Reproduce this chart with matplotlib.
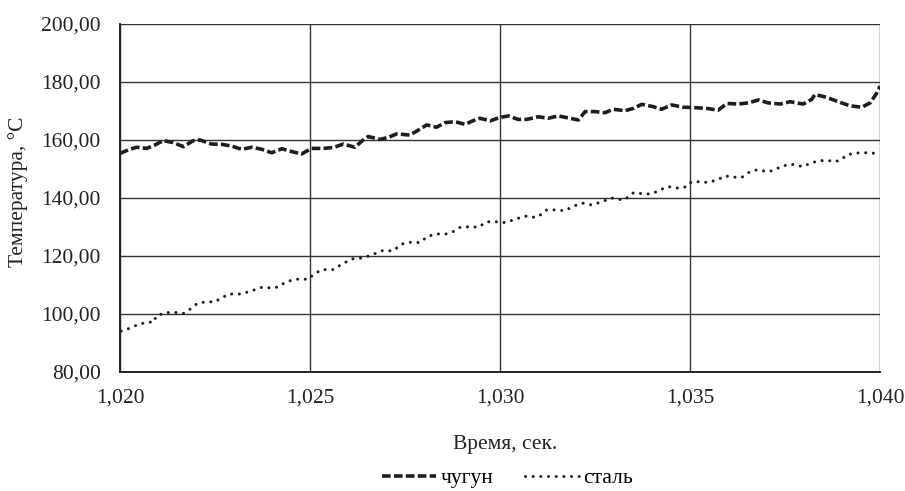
import matplotlib
matplotlib.use("Agg")
import matplotlib.pyplot as plt
from matplotlib.ticker import FuncFormatter, MultipleLocator
from matplotlib.lines import Line2D

plt.rcParams['font.family'] = ['Liberation Serif', 'DejaVu Serif']

# чугун (cast iron)
t_iron = [1.02000, 1.02026, 1.02044, 1.02070, 1.02092, 1.02114, 1.02140, 1.02167, 1.02193, 1.02211,
          1.02241, 1.02268, 1.02294, 1.02320, 1.02347, 1.02373, 1.02399, 1.02426, 1.02452, 1.02478,
          1.02504, 1.02535, 1.02561, 1.02588, 1.02618, 1.02640, 1.02653, 1.02684, 1.02706, 1.02728,
          1.02763, 1.02785, 1.02807, 1.02833, 1.02855, 1.02882, 1.02908, 1.02930, 1.02947, 1.02974,
          1.03000, 1.03022, 1.03048, 1.03070, 1.03101, 1.03127, 1.03153, 1.03184, 1.03206, 1.03224,
          1.03250, 1.03276, 1.03298, 1.03329, 1.03351, 1.03373, 1.03403, 1.03425, 1.03452, 1.03482,
          1.03508, 1.03544, 1.03574, 1.03597, 1.03627, 1.03653, 1.03680, 1.03706, 1.03737, 1.03763,
          1.03798, 1.03820, 1.03829, 1.03860, 1.03890, 1.03921, 1.03952, 1.03974, 1.03991, 1.04000]
v_iron = [155.4, 156.8, 157.5, 157.1, 158.3, 159.8, 159.1, 157.7, 159.8, 160.0,
          158.6, 158.5, 157.9, 156.8, 157.5, 156.8, 155.6, 157.0, 156.0, 155.2,
          157.1, 157.1, 157.4, 158.6, 157.5, 160.0, 161.2, 160.2, 160.9, 162.1,
          161.7, 163.4, 165.2, 164.4, 166.0, 166.3, 165.4, 166.7, 167.5, 166.6,
          167.8, 168.3, 167.1, 167.1, 168.0, 167.5, 168.3, 167.5, 166.9, 169.8,
          169.8, 169.4, 170.6, 170.1, 170.9, 172.3, 171.5, 170.6, 172.1, 171.3,
          171.2, 170.9, 170.3, 172.6, 172.4, 172.8, 173.8, 172.8, 172.4, 173.2,
          172.4, 174.0, 175.7, 174.7, 173.2, 171.8, 171.3, 172.8, 176.1, 178.6]

# сталь (steel)
t_steel = [1.02003, 1.02026, 1.02048, 1.02074, 1.02090, 1.02094, 1.02118, 1.02149, 1.02167, 1.02180,
           1.02202, 1.02228, 1.02247, 1.02268, 1.02285, 1.02318, 1.02347, 1.02373, 1.02395, 1.02417,
           1.02434, 1.02461, 1.02496, 1.02509, 1.02531, 1.02561, 1.02583, 1.02610, 1.02636, 1.02662,
           1.02688, 1.02719, 1.02741, 1.02767, 1.02789, 1.02811, 1.02837, 1.02860, 1.02882, 1.02895,
           1.02921, 1.02943, 1.02965, 1.02996, 1.03013, 1.03039, 1.03066, 1.03083, 1.03101, 1.03123,
           1.03149, 1.03171, 1.03193, 1.03219, 1.03241, 1.03268, 1.03294, 1.03311, 1.03329, 1.03351,
           1.03382, 1.03399, 1.03425, 1.03443, 1.03469, 1.03491, 1.03504, 1.03531, 1.03548, 1.03574,
           1.03592, 1.03623, 1.03636, 1.03658, 1.03676, 1.03706, 1.03724, 1.03741, 1.03768, 1.03798,
           1.03816, 1.03842, 1.03864, 1.03882, 1.03899, 1.03912, 1.03930, 1.03949, 1.03969, 1.03987]
v_steel = [94.1, 95.1, 96.4, 97.2, 97.2, 99.1, 100.5, 100.5, 100.2, 101.2,
           103.5, 104.3, 104.1, 105.5, 106.9, 106.9, 108.0, 109.2, 109.0, 109.3,
           110.9, 112.0, 112.0, 113.6, 115.3, 115.3, 117.1, 119.0, 119.3, 120.3,
           121.8, 121.8, 124.1, 124.8, 124.6, 126.9, 127.6, 127.6, 128.7, 129.9,
           130.1, 129.9, 131.8, 131.8, 131.5, 132.6, 133.8, 133.3, 133.6, 135.9,
           135.9, 135.6, 137.2, 138.2, 137.6, 138.7, 140.0, 139.5, 139.5, 141.8,
           141.4, 141.4, 143.0, 143.9, 143.4, 143.9, 145.6, 145.6, 145.3, 146.4,
           147.6, 147.1, 147.1, 149.1, 149.7, 149.1, 149.7, 151.0, 151.6, 150.8,
           152.0, 152.9, 152.9, 152.5, 153.3, 154.8, 155.4, 155.6, 155.6, 155.4]

labels = ['чугун', 'сталь']
FS = 15.5

fig = plt.figure(figsize=(9.05, 4.91), dpi=100)
ax = fig.add_axes([0.1326, 0.2424, 0.8398, 0.7087])

iron_style = dict(color='#1e1e1e', lw=2.6, linestyle=(0, (2.4, 0.9)), dash_capstyle='butt')
steel_style = dict(color='#1e1e1e', lw=2.2, linestyle=(0, (0.01, 2.5)), dash_capstyle='round')

ax.plot(t_iron, v_iron, **iron_style, zorder=3)
ax.plot(t_steel, v_steel, **steel_style, zorder=3)

ax.set_xlim(1.020, 1.040)
ax.set_ylim(80, 200)
ax.xaxis.set_major_locator(MultipleLocator(0.005))
ax.yaxis.set_major_locator(MultipleLocator(20))
ax.xaxis.set_major_formatter(FuncFormatter(lambda v, p: f"{v:.3f}".replace('.', ',')))
ax.yaxis.set_major_formatter(FuncFormatter(lambda v, p: f"{v:.2f}".replace('.', ',')))
ax.tick_params(length=0, labelsize=FS, colors='#222222')
ax.tick_params(axis='x', pad=12)
ax.tick_params(axis='y', pad=14)

ax.grid(True, color='#333333', lw=1.0)
ax.set_axisbelow(True)
for s in ['top', 'right']:
    ax.spines[s].set_visible(False)
for s in ['left', 'bottom']:
    ax.spines[s].set_color('#222222')
    ax.spines[s].set_linewidth(1.4)

fig.text(0.5580, 1 - 444 / 491, 'Время, сек.', fontsize=FS, color='#222222',
         ha='center', va='center')
fig.text(18 / 905, 1 - 192 / 491, 'Температура, °C', fontsize=FS, color='#222222',
         ha='center', va='center', rotation=90)

handles = [Line2D([], [], **iron_style), Line2D([], [], **steel_style)]
fig.legend(handles, labels, loc='center', bbox_to_anchor=(0.561, 1 - 478 / 491), ncol=2,
           frameon=False, fontsize=FS, handlelength=2.5, handletextpad=0.2,
           columnspacing=1.5, borderpad=0)

fig.savefig('out.png', dpi=100)
